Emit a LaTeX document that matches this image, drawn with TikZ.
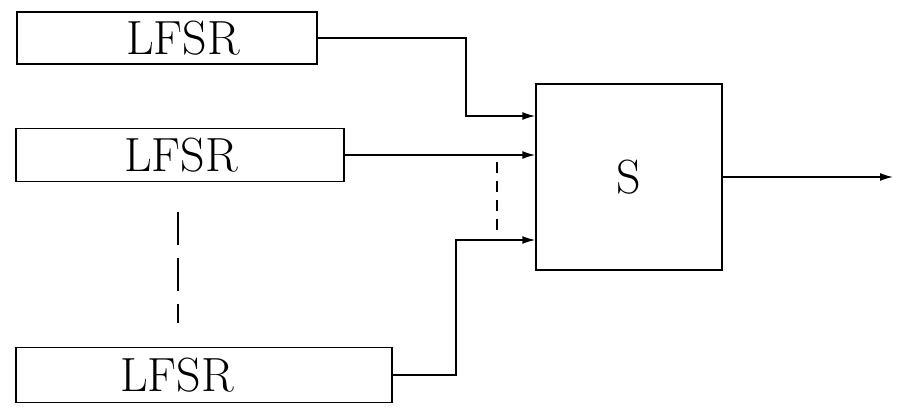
\documentclass[tikz,border=0pt]{standalone}
\usepackage{tikz}
\usetikzlibrary{arrows.meta}
\usetikzlibrary{calc}

\begin{document}
\begin{tikzpicture}[x=1pt,y=-1pt,
    reg/.style={draw, line width=1.5pt, rectangle, inner sep=0pt},
    lbl/.style={font=\fontsize{48}{58}\selectfont, inner sep=0pt},
    wire/.style={line width=1.5pt, -{Latex[length=13pt,width=8pt]}},
    gap/.style={line width=1.5pt, dash pattern=on #1}]
        \useasboundingbox (0,0) rectangle (903,414);

        % shift registers
        \node[reg, minimum width=300pt, minimum height=52pt] (r1) at (167,38) {};
        \node[reg, minimum width=328pt, minimum height=53pt] (r2) at (180,155) {};
        \node[reg, minimum width=376pt, minimum height=55pt] (r3) at (204,375) {};
        \node[lbl] (t1) at (183,38) {LFSR};
        \node[lbl] (t2) at (181,155) {LFSR};
        \node[lbl] (t3) at (177,375) {LFSR};

        % combining box
        \node[reg, minimum width=186pt, minimum height=186pt] (s) at (629,177) {};
        \node[lbl] (ts) at (s) {S};

        \coordinate (k1) at (466,116);
        \coordinate (k3) at (456,240);
        \coordinate (out) at (893,177);

        \draw[wire] (r1.east) -| (k1) -- (k1 -| s.west);
        \draw[wire] (r2.east) -- (r2.east -| s.west);
        \draw[wire] (r3.east) -| (k3) -- (k3 -| s.west);
        \draw[wire] (s.east) -- (out);

        % omitted registers
        \coordinate (d1) at (497,162);
        \coordinate (d2) at (497,231);
        \draw[gap={11pt off 8pt}] (d1) -- (d2);
        \coordinate (e1) at (178,212);
        \coordinate (e2) at (178,323);
        \draw[gap={33pt off 13pt}] (e1) -- (e2);
\end{tikzpicture}
\end{document}
